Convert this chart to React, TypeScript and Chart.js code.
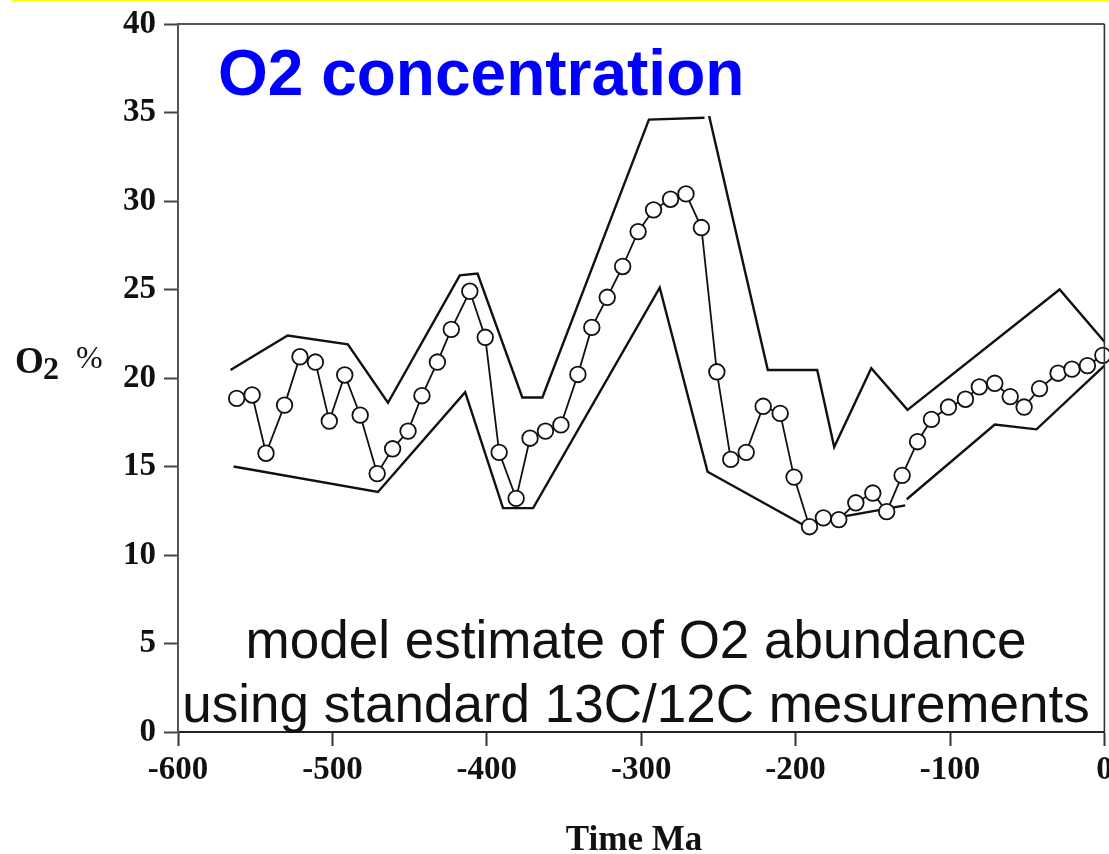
import React, { useEffect, useRef } from 'react';
import { Chart, registerables } from 'chart.js';

Chart.register(...registerables);

// Model O2 (circles)
const o2Age = [-562, -552, -543, -531, -521, -511, -502, -492, -482, -471, -461, -451, -442, -432, -423, -411, -401, -392, -381, -372, -362, -352, -341, -332, -322, -312, -302, -292, -281, -271, -261, -251, -242, -232, -221, -210, -201, -191, -182, -172, -161, -150, -141, -131, -121, -112, -101, -90, -81, -71, -61, -52, -42, -30, -21, -11, -1];
const o2Values = [18.85, 19.04, 15.75, 18.47, 21.2, 20.9, 17.57, 20.17, 17.9, 14.6, 16.0, 17.0, 19.0, 20.9, 22.75, 24.9, 22.3, 15.8, 13.2, 16.6, 17.0, 17.35, 20.2, 22.86, 24.56, 26.3, 28.27, 29.5, 30.1, 30.4, 28.5, 20.35, 15.4, 15.8, 18.4, 18.0, 14.4, 11.6, 12.1, 12.0, 12.95, 13.5, 12.45, 14.5, 16.4, 17.66, 18.36, 18.8, 19.5, 19.7, 18.95, 18.36, 19.4, 20.27, 20.5, 20.7, 21.28];

// Upper error envelope
const upperAge = [-566, -529, -490, -464, -417.5, -406, -377, -364, -295, -259, -257.5, -256, -218, -186, -175, -151, -127.5, -29, 0];
const upperValues = [20.45, 22.4, 21.9, 18.6, 25.8, 25.9, 18.9, 18.9, 34.6, 34.7, null, 34.8, 20.45, 20.45, 16.1, 20.55, 18.2, 25.0, 22.05];

// Lower error envelope
const lowerAge = [-564, -470.5, -414, -389.5, -370, -288, -257, -196, -129, -128.5, -128, -71, -44, 0];
const lowerValues = [15.0, 13.56, 19.2, 12.65, 12.65, 25.1, 14.7, 11.75, 12.8, null, 13.15, 17.37, 17.1, 20.7];

const xTicks = [-600, -500, -400, -300, -200, -100, 0];
const yTicks = [0, 5, 10, 15, 20, 25, 30, 35, 40];

const titleText = 'O2 concentration';
const noteLines = ['model estimate of O2 abundance', 'using standard 13C/12C mesurements'];
const xAxisTitle = 'Time Ma';

const zip = (xs: number[], ys: (number | null)[]) => xs.map((x, i) => ({ x, y: ys[i] }));

const SERIF = '"Liberation Serif", "Times New Roman", serif';
const SANS = '"Liberation Sans", Arial, sans-serif';

const decorPlugin = {
  id: 'decor',
  beforeDraw(chart: any) {
    const { ctx } = chart;
    ctx.save();
    ctx.fillStyle = '#ffffff';
    ctx.fillRect(0, 0, chart.width, chart.height);
    ctx.fillStyle = '#ffff00';
    ctx.fillRect(12, 0, chart.width - 12, 1.5);
    ctx.restore();
  },
  afterDraw(chart: any) {
    const { ctx, chartArea } = chart;
    ctx.save();
    // frame top & right
    ctx.strokeStyle = '#555';
    ctx.lineWidth = 2;
    ctx.beginPath();
    ctx.moveTo(chartArea.left, chartArea.top);
    ctx.lineTo(chartArea.right, chartArea.top);
    ctx.stroke();
    ctx.strokeStyle = '#333';
    ctx.lineWidth = 1.6;
    ctx.beginPath();
    ctx.moveTo(chartArea.right, chartArea.top);
    ctx.lineTo(chartArea.right, chartArea.bottom);
    ctx.stroke();

    // blue title
    ctx.fillStyle = '#0000ff';
    ctx.font = `bold 64px ${SANS}`;
    ctx.textAlign = 'left';
    ctx.textBaseline = 'alphabetic';
    ctx.fillText(titleText, 218, 95);

    // annotation
    ctx.fillStyle = '#111';
    ctx.font = `53px ${SANS}`;
    ctx.textAlign = 'center';
    ctx.fillText(noteLines[0], 636, 658);
    ctx.fillText(noteLines[1], 636, 722);

    // y-axis title O2 %
    ctx.textAlign = 'left';
    ctx.font = `bold 37px ${SERIF}`;
    ctx.fillText('O', 15, 373);
    ctx.font = `bold 32px ${SERIF}`;
    ctx.fillText('2', 43, 379);
    ctx.font = `32px ${SERIF}`;
    ctx.fillText('%', 76, 368);

    // x-axis title
    ctx.font = `bold 35px ${SERIF}`;
    ctx.textAlign = 'center';
    ctx.fillText(xAxisTitle, 634, 850);
    ctx.restore();
  },
};

const CANVAS_W = 1114;
const CANVAS_H = 854;

export default function App() {
  const canvasRef = useRef<HTMLCanvasElement | null>(null);

  useEffect(() => {
    document.body.style.margin = '0';
    document.body.style.overflow = 'hidden';
    const canvas = canvasRef.current;
    if (!canvas) return;
    const chart = new Chart(canvas, {
      type: 'line',
      data: {
        datasets: [
          {
            label: 'O2 model',
            data: zip(o2Age, o2Values),
            borderColor: '#111',
            borderWidth: 1.8,
            pointRadius: 7.8,
            pointBackgroundColor: '#ffffff',
            pointBorderColor: '#111',
            pointBorderWidth: 1.8,
            tension: 0,
            fill: false,
            clip: false as any,
          },
          {
            label: 'upper',
            data: zip(upperAge, upperValues),
            borderColor: '#111',
            borderWidth: 2.4,
            pointRadius: 0,
            tension: 0,
            fill: false,
            spanGaps: false,
          },
          {
            label: 'lower',
            data: zip(lowerAge, lowerValues),
            borderColor: '#111',
            borderWidth: 2.4,
            pointRadius: 0,
            tension: 0,
            fill: false,
            spanGaps: false,
          },
        ],
      },
      options: {
        animation: false,
        responsive: false,
        maintainAspectRatio: false,
        layout: { padding: { top: 24, right: 0, left: 0, bottom: 0 } },
        plugins: {
          legend: { display: false },
          tooltip: { enabled: false },
          title: { display: false },
        },
        scales: {
          x: {
            type: 'linear',
            min: -600,
            max: 0,
            afterFit: (s: any) => {
              s.height = 122;
              s.paddingLeft = 0;
              s.paddingRight = 0;
            },
            afterBuildTicks: (s: any) => { s.ticks = xTicks.map((v) => ({ value: v })); },
            ticks: {
              font: { family: SERIF, size: 33, weight: 'bold' },
              color: '#111',
              padding: 5,
              maxRotation: 0,
              callback: (v: any) => String(v),
            },
            grid: {
              display: true,
              drawOnChartArea: false,
              drawTicks: true,
              tickLength: 14,
              tickColor: '#333',
              tickWidth: 2,
            },
            border: { display: true, color: '#222', width: 2 },
          },
          y: {
            type: 'linear',
            min: 0,
            max: 40,
            afterFit: (s: any) => {
              s.width = 178;
              s.paddingTop = 0;
              s.paddingBottom = 0;
            },
            afterBuildTicks: (s: any) => { s.ticks = yTicks.map((v) => ({ value: v })); },
            ticks: {
              font: { family: SERIF, size: 33, weight: 'bold' },
              color: '#111',
              padding: 8,
              callback: (v: any) => String(v),
            },
            grid: {
              display: true,
              drawOnChartArea: false,
              drawTicks: true,
              tickLength: 14,
              tickColor: '#444',
              tickWidth: 2,
            },
            border: { display: true, color: '#555', width: 2 },
          },
        },
      },
      plugins: [decorPlugin],
    });
    return () => chart.destroy();
  }, []);

  return (
    <div style={{ width: 1109, height: 854, overflow: 'hidden', position: 'relative' }}>
      <canvas ref={canvasRef} width={CANVAS_W} height={CANVAS_H} style={{ display: 'block', width: CANVAS_W, height: CANVAS_H }} />
    </div>
  );
}
